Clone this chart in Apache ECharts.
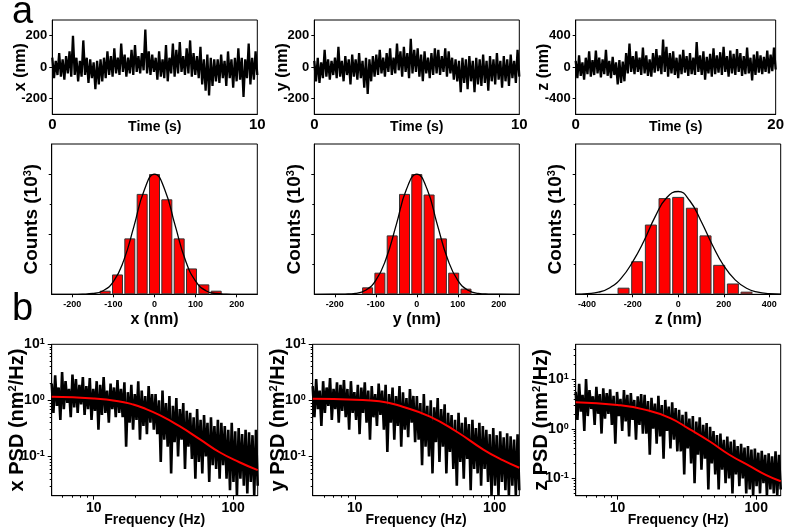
<!DOCTYPE html>
<html><head><meta charset="utf-8">
<script src="https://cdn.jsdelivr.net/npm/echarts@6/dist/echarts.min.js"></script>
<style>html,body{margin:0;padding:0;background:#fff}#c{width:787px;height:530px}</style>
</head><body><div id="c"></div>
<script>
// ---------- Data ----------
// Time traces (nm), evenly sampled over the time span
const X_TRACE = [60,-70,40,-50,90,-60,50,-80,70,-40,100,-60,
 200,-50,60,-90,40,-60,170,-50,60,-100,50,-70,
 30,-140,40,-110,50,-90,60,-70,100,-50,70,-60,
 120,-40,60,-50,150,-30,80,-60,60,-40,110,-50,
 140,-30,70,-40,90,-20,240,-40,100,-50,80,-30,
 60,-80,100,-60,50,-70,140,-90,60,-40,150,-60,
 110,-40,160,-30,70,-50,120,-40,170,-60,90,-50,
 70,-70,130,-110,50,-150,80,-180,60,-120,50,-90,
 50,-100,80,-70,40,-120,100,-70,50,-130,60,-90,
 120,-80,60,-190,50,-70,150,-110,60,-80,100,-50];
const Y_TRACE = [40,-90,60,-100,30,-70,110,-60,50,-80,40,-50,
 60,-70,130,-60,40,-90,70,-50,50,-110,80,-60,
 50,-80,90,-70,40,-130,60,-170,50,-90,70,-60,
 80,-50,110,-40,60,-60,90,-30,120,-50,60,-40,
 150,-20,100,-60,130,-30,90,-70,180,-40,110,-30,
 120,-60,80,-90,100,-40,60,-70,90,-50,120,-40,
 110,-50,70,-30,120,-60,100,-40,60,-80,50,-90,
 40,-160,60,-100,50,-140,70,-90,40,-160,60,-110,
 50,-120,80,-100,40,-150,70,-90,50,-110,90,-80,
 40,-130,70,-90,50,-120,80,-70,40,-100,110,-60];
const Z_TRACE = [80,-140,150,-110,60,-160,120,-90,200,-120,90,-100,
 210,-80,120,-130,100,-90,220,-110,80,-140,130,-100,
 60,-220,90,-200,70,-180,180,-80,300,-60,140,-90,
 200,-60,120,-100,250,-80,150,-110,100,-120,180,-70,
 230,-50,150,-90,350,-60,260,-120,180,-80,200,-100,
 120,-140,160,-90,220,-70,140,-110,180,-90,120,-100,
 320,-60,150,-100,200,-160,130,-80,170,-120,240,-90,
 150,-70,190,-100,260,-60,140,-120,210,-80,170,-100,
 230,-60,180,-110,140,-90,250,-80,120,-170,160,-100,
 200,-70,150,-90,130,-60,210,-80,160,-50,250,-30];
const T_SPAN = [10, 10, 20];
const T_RANGE = [300, 300, 600];
const T_TICKS = [[-200,0,200],[-200,0,200],[-400,0,400]];

// Histograms (bin centre nm, counts in 10^3 arb.)
const X_BINS = [-120,-90,-60,-30,0,30,60,90,120,150];
const X_COUNTS = [0.06,0.33,0.93,1.67,2.0,1.58,0.93,0.43,0.165,0.06];
const Y_BINS = [-120,-90,-60,-30,0,30,60,90,120];
const Y_COUNTS = [0.116,0.36,0.98,1.67,2.0,1.66,0.93,0.36,0.094];
const Z_BINS = [-240,-180,-120,-60,0,60,120,180,240,300];
const Z_COUNTS = [0.11,0.55,1.16,1.6,1.62,1.44,0.98,0.49,0.18,0.044];
// Gaussian fit curves
const X_FIT_POS = [-250,-200,-175,-150,-125,-100,-75,-50,-25,0,25,50,75,100,125,150,175,200,250];
const X_FIT_VAL = [0,0,0.003,0.013,0.06,0.21,0.56,1.13,1.73,2.0,1.74,1.15,0.57,0.22,0.06,0.013,0.003,0,0];
const Y_FIT_POS = [-250,-200,-175,-150,-125,-100,-75,-50,-25,0,25,50,75,100,125,150,175,200,250];
const Y_FIT_VAL = [0,0.001,0.004,0.015,0.067,0.23,0.59,1.16,1.75,2.0,1.75,1.16,0.59,0.23,0.067,0.015,0.004,0.001,0];
const Z_FIT_POS = [-450,-400,-350,-300,-250,-200,-150,-100,-50,0,50,100,150,200,250,300,350,400,450];
const Z_FIT_VAL = [0.002,0.012,0.035,0.11,0.27,0.54,0.89,1.30,1.61,1.71,1.56,1.22,0.82,0.475,0.24,0.1,0.035,0.01,0.002];
const HIST_RANGE = [250, 250, 450];
const HIST_TICKS = [[-200,-100,0,100,200],[-200,-100,0,100,200],[-400,-200,0,200,400]];
const HIST_BARW = [11, 11, 12];

// PSD (nm^2/Hz), samples from 5 Hz to 150 Hz
const X_PSD = [2.0,0.6,2.8,0.8,1.7,0.45,3.2,0.7,2.2,0.9,1.6,0.5,2.9,0.75,2.4,0.6,1.9,0.85,2.6,0.55,
 1.8,0.7,2.5,0.45,1.6,0.65,2.2,0.3,1.9,0.55,2.6,0.6,1.5,0.4,2.0,0.7,1.7,0.5,2.3,0.6,
 1.6,0.5,2.1,0.15,1.4,0.4,1.9,0.3,1.3,0.45,2.2,0.2,1.5,0.35,1.2,0.25,1.8,0.4,1.3,0.3,
 1.3,0.25,1.0,0.08,1.5,0.2,0.9,0.15,1.2,0.05,0.8,0.18,1.1,0.1,0.7,0.2,0.9,0.06,0.65,0.15,
 0.6,0.09,0.5,0.04,0.7,0.08,0.45,0.05,0.55,0.1,0.4,0.035,0.5,0.07,0.35,0.06,0.45,0.04,0.4,0.07,
 0.35,0.04,0.3,0.025,0.4,0.035,0.28,0.02,0.32,0.04,0.25,0.03,0.3,0.022,0.27,0.035,0.24,0.02,0.3,0.03];
const Y_PSD = [1.8,0.5,2.4,0.7,1.5,0.35,2.2,0.6,1.7,0.8,2.5,0.45,1.6,0.7,2.1,0.4,1.9,0.65,2.3,0.5,
 1.6,0.3,2.2,0.6,1.4,0.45,1.9,0.25,1.7,0.6,2.1,0.4,1.5,0.2,1.8,0.5,1.3,0.35,2.0,0.55,
 1.5,0.3,1.9,0.12,1.3,0.4,1.7,0.2,1.2,0.35,1.8,0.15,1.4,0.3,1.1,0.22,1.6,0.4,1.2,0.18,
 1.2,0.2,0.9,0.07,1.3,0.15,0.8,0.1,1.0,0.05,0.75,0.18,1.1,0.08,0.7,0.15,0.85,0.05,0.6,0.12,
 0.55,0.06,0.45,0.03,0.6,0.08,0.4,0.04,0.5,0.09,0.38,0.025,0.45,0.06,0.32,0.05,0.4,0.03,0.35,0.06,
 0.3,0.035,0.25,0.02,0.32,0.03,0.24,0.02,0.28,0.035,0.22,0.025,0.26,0.02,0.23,0.03,0.2,0.02,0.25,0.025];
const Z_PSD = [5.5,1.5,8.0,2.2,4.8,0.9,10,1.8,6.0,2.5,4.5,1.2,7.0,2.0,5.0,0.8,6.5,1.6,5.2,2.0,
 6.2,1.2,4.6,0.5,5.5,1.8,4.0,0.9,6.0,1.4,4.8,0.7,5.2,1.5,3.8,0.6,4.5,1.2,5.0,0.8,
 4.8,0.8,3.6,0.3,4.2,1.0,3.2,0.5,4.6,0.7,3.0,0.25,3.8,0.9,2.8,0.4,3.4,0.6,2.6,0.35,
 2.4,0.35,1.9,0.12,2.2,0.4,1.6,0.2,1.8,0.08,1.4,0.3,1.7,0.15,1.2,0.25,1.3,0.06,1.1,0.2,
 0.9,0.12,0.75,0.06,0.8,0.15,0.6,0.08,0.7,0.1,0.55,0.05,0.6,0.12,0.45,0.07,0.5,0.1,0.42,0.05,
 0.45,0.06,0.38,0.045,0.4,0.07,0.33,0.05,0.36,0.08,0.3,0.045,0.32,0.06,0.28,0.05,0.35,0.045,0.3,0.06];
// Lorentzian fit curves
const X_FIT_F = [5,10,15,19,22.5,30,41,57.5,80,111,150];
const X_FIT_P = [1.16,1.08,0.97,0.85,0.74,0.54,0.35,0.204,0.119,0.079,0.057];
const Y_FIT_F = [5,10,15,22,34.5,53.6,83,115,150];
const Y_FIT_P = [1.07,1.03,0.97,0.77,0.515,0.276,0.133,0.085,0.063];
const Z_FIT_F = [5,10,16,24,33,46,64,90,118,150];
const Z_FIT_P = [3.4,3.0,2.4,1.64,0.98,0.56,0.30,0.177,0.117,0.088];
const F_MIN = 5, F_MAX = 150;
const PSD_YMIN = [0.02, 0.02, 0.045];
const PSD_YMAX = [10, 10, 50];
const PSD_MINOR = [[0.03,0.04,0.05,0.06,0.07,0.08,0.09,0.2,0.3,0.4,0.5,0.6,0.7,0.8,0.9,2,3,4,5,6,7,8,9],
 [0.03,0.04,0.05,0.06,0.07,0.08,0.09,0.2,0.3,0.4,0.5,0.6,0.7,0.8,0.9,2,3,4,5,6,7,8,9],
 [0.05,0.06,0.07,0.08,0.09,0.2,0.3,0.4,0.5,0.6,0.7,0.8,0.9,2,3,4,5,6,7,8,9,20,30,40]];
const F_MINOR = [6,7,8,9,20,30,40,50,60,70,80,90];
const AXIS_LETTERS = ['x','y','z'];

// ---------- Build chart ----------
const FONT = 'Liberation Sans';
const TS = {fontFamily: FONT, fontWeight: 'bold', color: '#000'};
const grids = [], xAxes = [], yAxes = [], series = [];
const LINE = {color: '#000', width: 1};
const AL = {onZero: false, lineStyle: LINE};

const rows = [
  {top: 20, height: 94.3, lefts: [52.3, 314.3, 575.7], widths: [205, 205, 205]},
  {top: 144, height: 150.3, lefts: [51.7, 314.3, 575.7], widths: [205.6, 205, 205]},
  {top: 344.3, height: 151.4, lefts: [51.7, 312.7, 575.7], widths: [206, 206.6, 205]}
];
function addGrid(r, c) {
  const R = rows[r];
  grids.push({left: R.lefts[c], top: R.top, width: R.widths[c], height: R.height,
    show: true, borderColor: '#000', borderWidth: 1, backgroundColor: 'transparent'});
  return grids.length - 1;
}
function richName(size, supSize) {
  return {rich: {a: Object.assign({fontSize: size}, TS), s: Object.assign({fontSize: supSize, verticalAlign: 'top'}, TS)}};
}
function minorX(g, type, min, max, vals) {
  xAxes.push({type, gridIndex: g, min, max, position: 'bottom', axisLine: {show: false, onZero: false},
    splitLine: {show: false}, axisLabel: {show: false},
    axisTick: {show: true, length: 2, customValues: vals, lineStyle: LINE}});
}
function minorY(g, type, min, max, vals) {
  yAxes.push({type, gridIndex: g, min, max, position: 'left', axisLine: {show: false, onZero: false},
    splitLine: {show: false}, axisLabel: {show: false},
    axisTick: {show: true, length: 2, customValues: vals, lineStyle: LINE}});
}

const TRACES = [X_TRACE, Y_TRACE, Z_TRACE];
const BINS = [X_BINS, Y_BINS, Z_BINS], COUNTS = [X_COUNTS, Y_COUNTS, Z_COUNTS];
const FITP = [X_FIT_POS, Y_FIT_POS, Z_FIT_POS], FITV = [X_FIT_VAL, Y_FIT_VAL, Z_FIT_VAL];
const PSDS = [X_PSD, Y_PSD, Z_PSD];
const PF = [X_FIT_F, Y_FIT_F, Z_FIT_F], PP = [X_FIT_P, Y_FIT_P, Z_FIT_P];

for (let c = 0; c < 3; c++) {
  const L = AXIS_LETTERS[c];
  // Row 1: time traces
  let g = addGrid(0, c);
  let xi = xAxes.length, yi = yAxes.length;
  xAxes.push({type: 'value', gridIndex: g, min: 0, max: T_SPAN[c], interval: T_SPAN[c],
    axisLine: AL, axisTick: {show: false}, splitLine: {show: false},
    axisLabel: Object.assign({fontSize: 15, margin: 3}, TS),
    name: 'Time (s)', nameLocation: 'middle', nameGap: 6, nameMoveOverlap: false,
    nameTextStyle: Object.assign({fontSize: 14}, TS)});
  yAxes.push({type: 'value', gridIndex: g, min: -T_RANGE[c], max: T_RANGE[c],
    axisLine: AL, splitLine: {show: false},
    axisTick: {show: true, length: 3, customValues: T_TICKS[c], lineStyle: LINE},
    axisLabel: Object.assign({fontSize: 13, margin: 5, customValues: T_TICKS[c]}, TS),
    name: L + ' (nm)', nameLocation: 'middle', nameGap: 24, nameMoveOverlap: false,
    nameTextStyle: Object.assign({fontSize: 16}, TS)});
  const tr = TRACES[c], n = tr.length;
  series.push({type: 'line', xAxisIndex: xi, yAxisIndex: yi, symbol: 'none', clip: true,
    lineStyle: {color: '#000', width: 2.3, join: 'bevel'}, data: tr.map((v, i) => [i * T_SPAN[c] / (n - 1), v])});

  // Row 2: histograms
  g = addGrid(1, c);
  xi = xAxes.length; yi = yAxes.length;
  xAxes.push({type: 'value', gridIndex: g, min: -HIST_RANGE[c], max: HIST_RANGE[c],
    axisLine: AL, splitLine: {show: false},
    axisTick: {show: true, length: 3, customValues: HIST_TICKS[c], lineStyle: LINE},
    axisLabel: Object.assign({fontSize: 9, margin: 6, customValues: HIST_TICKS[c]}, TS),
    name: L + ' (nm)', nameLocation: 'middle', nameGap: 17, nameMoveOverlap: false,
    nameTextStyle: Object.assign({fontSize: 16}, TS)});
  yAxes.push({type: 'value', gridIndex: g, min: 0, max: 2.5,
    axisLine: AL, splitLine: {show: false},
    axisTick: {show: true, length: 3, customValues: [1, 2], lineStyle: LINE},
    axisLabel: {show: false},
    name: '{a|Counts (10}{s|3}{a|)}', nameLocation: 'middle', nameGap: 10, nameMoveOverlap: false,
    nameTextStyle: richName(19, 11)});
  minorY(g, 'value', 0, 2.5, [0.5, 1.5]);
  series.push({type: 'bar', xAxisIndex: xi, yAxisIndex: yi, barWidth: HIST_BARW[c],
    itemStyle: {color: '#ff0000', borderColor: '#333', borderWidth: 1},
    data: BINS[c].map((b, i) => [b, COUNTS[c][i]])});
  series.push({type: 'line', xAxisIndex: xi, yAxisIndex: yi, symbol: 'none', smooth: true, z: 5,
    lineStyle: {color: '#000', width: 1.3}, data: FITP[c].map((p, i) => [p, FITV[c][i]])});

  // Row 3: PSD
  g = addGrid(2, c);
  xi = xAxes.length; yi = yAxes.length;
  xAxes.push({type: 'log', logBase: 10, gridIndex: g, min: F_MIN, max: F_MAX,
    axisLine: AL, splitLine: {show: false},
    axisTick: {show: true, length: 4, customValues: [10, 100], lineStyle: LINE},
    axisLabel: Object.assign({fontSize: 14, margin: 5, customValues: [10, 100]}, TS),
    name: 'Frequency (Hz)', nameLocation: 'middle', nameGap: 17, nameMoveOverlap: false,
    nameTextStyle: Object.assign({fontSize: 14}, TS)});
  yAxes.push({type: 'log', logBase: 10, gridIndex: g, min: PSD_YMIN[c], max: PSD_YMAX[c],
    axisLine: AL, splitLine: {show: false},
    axisTick: {show: true, length: 4, customValues: [0.1, 1, 10], lineStyle: LINE},
    axisLabel: {customValues: [0.1, 1, 10], margin: 7,
      formatter: v => '{b|10}{s|' + Math.round(Math.log10(v)) + '}',
      rich: {b: Object.assign({fontSize: 14}, TS), s: Object.assign({fontSize: 9, verticalAlign: 'top'}, TS)}},
    name: '{a|' + L + ' PSD (nm}{s|2}{a|/Hz)}', nameLocation: 'middle', nameGap: 24, nameMoveOverlap: false,
    nameTextStyle: richName(20, 11)});
  minorX(g, 'log', F_MIN, F_MAX, F_MINOR);
  minorY(g, 'log', PSD_YMIN[c], PSD_YMAX[c], PSD_MINOR[c]);
  const ps = PSDS[c], m = ps.length;
  series.push({type: 'line', xAxisIndex: xi, yAxisIndex: yi, symbol: 'none', clip: true,
    lineStyle: {color: '#000', width: 2.6, join: 'bevel'},
    data: ps.map((v, i) => [F_MIN * Math.pow(F_MAX / F_MIN, i / (m - 1)), v])});
  series.push({type: 'line', xAxisIndex: xi, yAxisIndex: yi, symbol: 'none', smooth: true, z: 5, clip: true,
    lineStyle: {color: '#ff0000', width: 2}, data: PF[c].map((f, i) => [f, PP[c][i]])});
}

const chart = echarts.init(document.getElementById('c'));
chart.setOption({
  animation: false,
  backgroundColor: '#fff',
  grid: grids, xAxis: xAxes, yAxis: yAxes, series,
  graphic: [
    {type: 'text', left: 12, top: -6, style: {text: 'a', fontSize: 38, fontFamily: FONT, fill: '#000'}},
    {type: 'text', left: 12, top: 291, style: {text: 'b', fontSize: 38, fontFamily: FONT, fill: '#000'}}
  ]
});
</script></body></html>
